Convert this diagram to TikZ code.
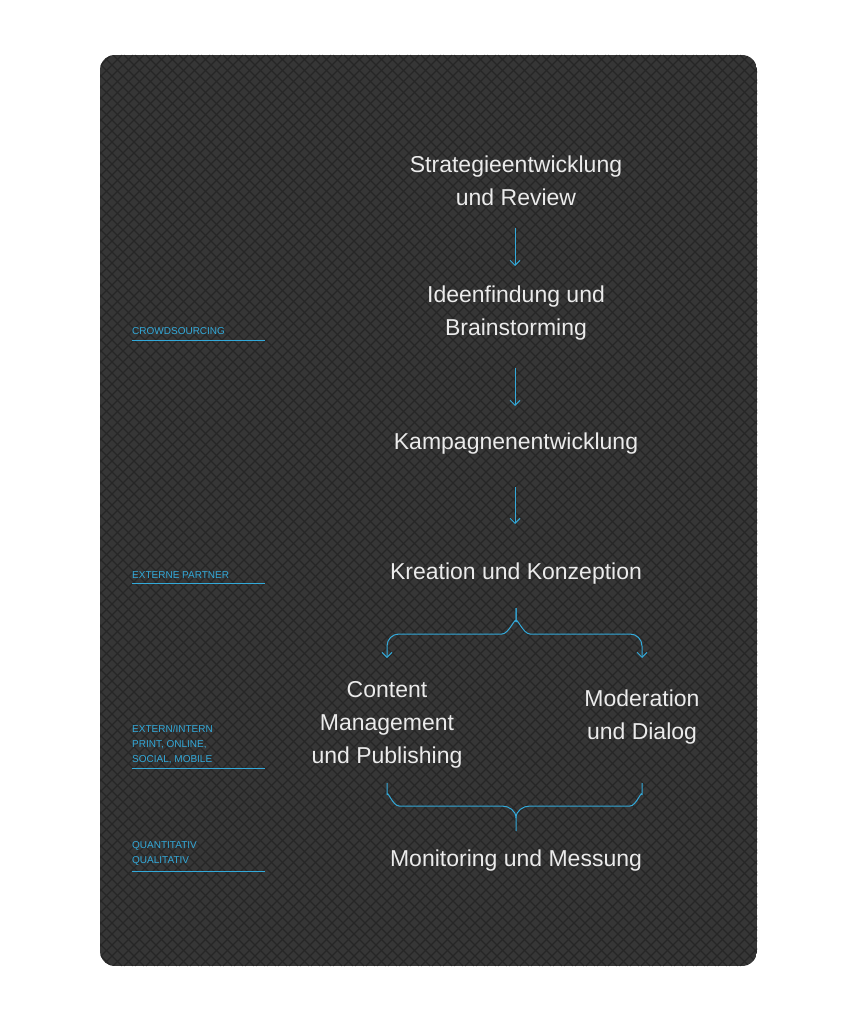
\documentclass[tikz,border=0pt]{standalone}
\usepackage{fontspec}
\setmainfont{Liberation Sans}
\usetikzlibrary{arrows.meta}
\definecolor{cy}{HTML}{33A9D9}
\definecolor{bg}{HTML}{363636}
\definecolor{hatch}{HTML}{262626}
\begin{document}
\begin{tikzpicture}[x=1pt,y=-1pt,
  main/.style={text=white!92!black,font=\fontsize{23}{33}\selectfont,align=center,inner sep=0pt},
  lab/.style={text=cy,font=\fontsize{10}{15}\selectfont,align=left,anchor=south west,inner sep=0pt},
  arr/.style={draw=cy,line width=1pt,-{Straight Barb[length=5pt,width=10pt]}},
  br/.style={draw=cy,line width=1pt}]
\useasboundingbox (0,0) rectangle (865,1024);
\fill[white] (0,0) rectangle (865,1024);
\begin{scope}
\clip[rounded corners=15pt] (100,55) rectangle (757,966);
\fill[bg] (100,55) rectangle (757,966);
\foreach \k in {0,...,150}{
  \draw[hatch,line width=1.2pt] ({100+\k*11-911},55) -- ({100+\k*11},966);
  \draw[hatch,line width=1.2pt] ({100+\k*11-911},966) -- ({100+\k*11},55);
}
\end{scope}
\node[main] (n1) at (516,181) {Strategieentwicklung\\und Review};
\node[main] (n2) at (516,313) {Ideenfindung und\\Brainstorming};
\node[main] (n3) at (516,444) {Kampagnenentwicklung};
\node[main] (n4) at (516,574) {Kreation und Konzeption};
\node[main] (n5) at (387,725) {Content\\Management\\und Publishing};
\node[main] (n6) at (642,717) {Moderation\\und Dialog};
\node[main] (n7) at (516,861) {Monitoring und Messung};
\coordinate (a1) at (515,228); \coordinate (b1) at (515,266);
\coordinate (a2) at (515,368); \coordinate (b2) at (515,406);
\coordinate (a3) at (515,487); \coordinate (b3) at (515,524);
\draw[arr] (a1) -- (b1);
\draw[arr] (a2) -- (b2);
\draw[arr] (a3) -- (b3);
\coordinate (t) at (516,608);
\draw[arr] (t) -- (516,622) to[out=90,in=0] (502,634) -- (399,634) to[out=180,in=90] (387,646) -- (387,658);
\draw[arr] (t) -- (516,622) to[out=90,in=180] (530,634) -- (630,634) to[out=0,in=90] (642,646) -- (642,658);
\coordinate (l) at (387,783); \coordinate (r) at (642,783); \coordinate (m) at (516,831);
\draw[br] (l) -- (387,795) to[out=90,in=180] (399,806) -- (502,806) to[out=0,in=90] (516,818) -- (m);
\draw[br] (r) -- (642,795) to[out=90,in=0] (630,806) -- (530,806) to[out=180,in=90] (516,818);
\node[lab] (c1) at (132,335) {CROWDSOURCING};
\node[lab] (c2) at (132,579) {EXTERNE PARTNER};
\node[lab] (c3) at (132,764) {EXTERN/INTERN\\PRINT, ONLINE,\\SOCIAL, MOBILE};
\node[lab] (c4) at (132,866) {QUANTITATIV\\QUALITATIV};
\draw[cy,line width=0.8pt] (132,340) -- (265,340);
\draw[cy,line width=0.8pt] (132,583) -- (265,583);
\draw[cy,line width=0.8pt] (132,768) -- (265,768);
\draw[cy,line width=0.8pt] (132,871) -- (265,871);
\end{tikzpicture}
\end{document}
